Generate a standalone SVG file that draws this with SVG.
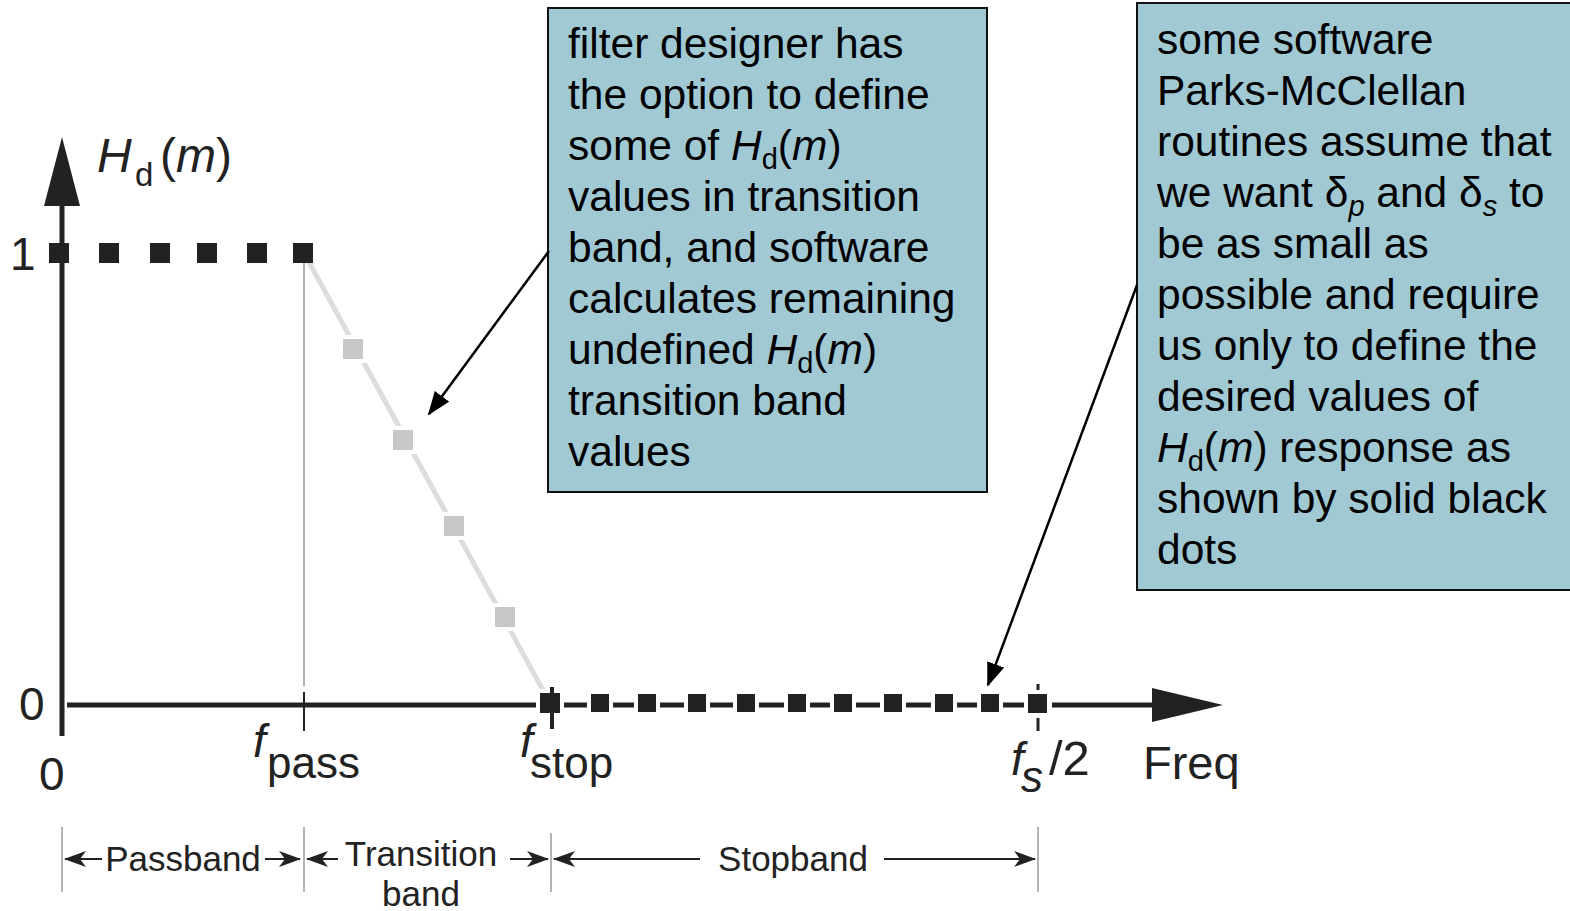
<svg xmlns="http://www.w3.org/2000/svg" width="1570" height="911" viewBox="0 0 1570 911">
<style>
text{font-family:"Liberation Sans",Arial,sans-serif;fill:#222}
.box text{fill:#000;font-size:42.5px}
.it{font-style:italic}
.blk{fill:#222}
.gry{fill:#c8c8c8}
.wb{fill:#fff}
.brk{stroke:#222;stroke-width:2;fill:none;marker-end:url(#barb)}
.gl{stroke:#b4b4b4;stroke-width:2}
.call{stroke:#000;stroke-width:2.5;fill:none;marker-end:url(#tri)}
.lbl{font-size:35px}
</style>
<defs>
<marker id="barb" viewBox="0 0 22 16" markerWidth="22" markerHeight="16" refX="21" refY="8" orient="auto" markerUnits="userSpaceOnUse">
<path d="M0,0 L22,8 L0,16 L6,8 z" fill="#222"/>
</marker>
<marker id="tri" viewBox="0 0 24 18" markerWidth="24" markerHeight="18" refX="22" refY="9" orient="auto" markerUnits="userSpaceOnUse">
<path d="M0,0 L24,9 L0,18 z" fill="#000"/>
</marker>
</defs>

<g id="axes">
<line x1="62" y1="200" x2="62" y2="736" stroke="#222" stroke-width="5"/>
<polygon points="62,137 44,206 80,206" fill="#222"/>
<line x1="67" y1="705" x2="1160" y2="705" stroke="#222" stroke-width="5"/>
<polygon points="1223,705 1152,688 1152,722" fill="#222"/>
<line class="gl" x1="304" y1="262" x2="304" y2="686"/>
<line x1="304" y1="692" x2="304" y2="731" stroke="#222" stroke-width="2"/>
<line x1="1038" y1="684" x2="1038" y2="731" stroke="#222" stroke-width="3"/>
</g>

<g id="transition-line">
<line x1="304" y1="253" x2="550" y2="703" stroke="#ddd" stroke-width="5"/>
</g>

<g id="passband-points">
<rect class="blk" x="49" y="243" width="20" height="20"/>
<rect class="blk" x="99" y="243" width="20" height="20"/>
<rect class="blk" x="150" y="243" width="20" height="20"/>
<rect class="blk" x="197" y="243" width="20" height="20"/>
<rect class="blk" x="247" y="243" width="20" height="20"/>
<rect class="blk" x="293" y="243" width="20" height="20"/>
</g>

<g id="transition-points">
<rect class="wb" x="339" y="335" width="28" height="28"/><rect class="gry" x="343" y="339" width="20" height="20"/>
<rect class="wb" x="389" y="426" width="28" height="28"/><rect class="gry" x="393" y="430" width="20" height="20"/>
<rect class="wb" x="440" y="512" width="28" height="28"/><rect class="gry" x="444" y="516" width="20" height="20"/>
<rect class="wb" x="491" y="603" width="28" height="28"/><rect class="gry" x="495" y="607" width="20" height="20"/>
</g>

<g id="stopband-points">
<rect class="wb" x="536" y="689" width="28" height="28"/><rect class="blk" x="540" y="693" width="20" height="20"/>
<rect class="wb" x="587" y="690" width="26" height="26"/><rect class="blk" x="591" y="694" width="18" height="18"/>
<rect class="wb" x="634" y="690" width="26" height="26"/><rect class="blk" x="638" y="694" width="18" height="18"/>
<rect class="wb" x="684" y="690" width="26" height="26"/><rect class="blk" x="688" y="694" width="18" height="18"/>
<rect class="wb" x="733" y="690" width="26" height="26"/><rect class="blk" x="737" y="694" width="18" height="18"/>
<rect class="wb" x="784" y="690" width="26" height="26"/><rect class="blk" x="788" y="694" width="18" height="18"/>
<rect class="wb" x="830" y="690" width="26" height="26"/><rect class="blk" x="834" y="694" width="18" height="18"/>
<rect class="wb" x="880" y="690" width="26" height="26"/><rect class="blk" x="884" y="694" width="18" height="18"/>
<rect class="wb" x="931" y="690" width="26" height="26"/><rect class="blk" x="935" y="694" width="18" height="18"/>
<rect class="wb" x="977" y="690" width="26" height="26"/><rect class="blk" x="981" y="694" width="18" height="18"/>
<rect class="wb" x="1024" y="690" width="28" height="28"/><rect class="blk" x="1028" y="694" width="19" height="19"/>
<line x1="552" y1="687" x2="552" y2="729" stroke="#222" stroke-width="4"/>
</g>

<g id="axis-labels">
<text x="97" y="172" font-size="48"><tspan class="it">H</tspan></text>
<text x="135" y="186" font-size="33">d</text>
<text x="160" y="172" font-size="48">(<tspan class="it">m</tspan>)</text>
<text x="10" y="270" font-size="46">1</text>
<text x="19" y="720" font-size="46">0</text>
<text x="39" y="790" font-size="46">0</text>
<text x="253" y="757" font-size="46" class="it">f</text>
<text x="267" y="778" font-size="44">pass</text>
<text x="520" y="757" font-size="46" class="it">f</text>
<text x="530" y="778" font-size="44">stop</text>
<text x="1011" y="775" font-size="46" class="it">f</text>
<text x="1021" y="792" font-size="44" class="it">s</text>
<text x="1049" y="775" font-size="49">/2</text>
<text x="1143" y="779" font-size="47">Freq</text>
</g>

<g id="band-brackets">
<line class="gl" x1="62" y1="827" x2="62" y2="892"/>
<line class="gl" x1="304" y1="827" x2="304" y2="892"/>
<line class="gl" x1="551" y1="833" x2="551" y2="892"/>
<line class="gl" x1="1038" y1="827" x2="1038" y2="892"/>
<line class="brk" x1="102" y1="859" x2="65" y2="859"/>
<line class="brk" x1="265" y1="859" x2="300" y2="859"/>
<line class="brk" x1="338" y1="859" x2="307" y2="859"/>
<line class="brk" x1="510" y1="859" x2="548" y2="859"/>
<line class="brk" x1="700" y1="859" x2="554" y2="859"/>
<line class="brk" x1="884" y1="859" x2="1035" y2="859"/>
<text class="lbl" x="183" y="871" text-anchor="middle">Passband</text>
<text class="lbl" x="421" y="866" text-anchor="middle">Transition</text>
<text class="lbl" x="421" y="906" text-anchor="middle">band</text>
<text class="lbl" x="793" y="871" text-anchor="middle">Stopband</text>
</g>

<g id="callout-1" class="box">
<rect x="548" y="8" width="439" height="484" fill="#a0c9d3" stroke="#111" stroke-width="2"/>
<text x="568" y="58">filter designer has</text>
<text x="568" y="109">the option to define</text>
<text x="568" y="160">some of <tspan class="it">H</tspan><tspan font-size="29" dy="9">d</tspan><tspan dy="-9">(</tspan><tspan class="it">m</tspan>)</text>
<text x="568" y="211">values in transition</text>
<text x="568" y="262">band, and software</text>
<text x="568" y="313">calculates remaining</text>
<text x="568" y="364">undefined <tspan class="it">H</tspan><tspan font-size="29" dy="9">d</tspan><tspan dy="-9">(</tspan><tspan class="it">m</tspan>)</text>
<text x="568" y="415">transition band</text>
<text x="568" y="466">values</text>
</g>

<g id="callout-2" class="box">
<rect x="1137" y="3" width="440" height="587" fill="#a0c9d3" stroke="#111" stroke-width="2"/>
<text x="1157" y="54">some software</text>
<text x="1157" y="105">Parks-McClellan</text>
<text x="1157" y="156">routines assume that</text>
<text x="1157" y="207">we want δ<tspan class="it" font-size="29" dy="9">p</tspan><tspan dy="-9"> and δ</tspan><tspan class="it" font-size="29" dy="9">s</tspan><tspan dy="-9"> to</tspan></text>
<text x="1157" y="258">be as small as</text>
<text x="1157" y="309">possible and require</text>
<text x="1157" y="360">us only to define the</text>
<text x="1157" y="411">desired values of</text>
<text x="1157" y="462"><tspan class="it">H</tspan><tspan font-size="29" dy="9">d</tspan><tspan dy="-9">(</tspan><tspan class="it">m</tspan>) response as</text>
<text x="1157" y="513">shown by solid black</text>
<text x="1157" y="564">dots</text>
</g>

<g id="connectors">
<line class="call" x1="549" y1="251" x2="429" y2="414"/>
<line class="call" x1="1137" y1="285" x2="988" y2="685"/>
</g>
</svg>
